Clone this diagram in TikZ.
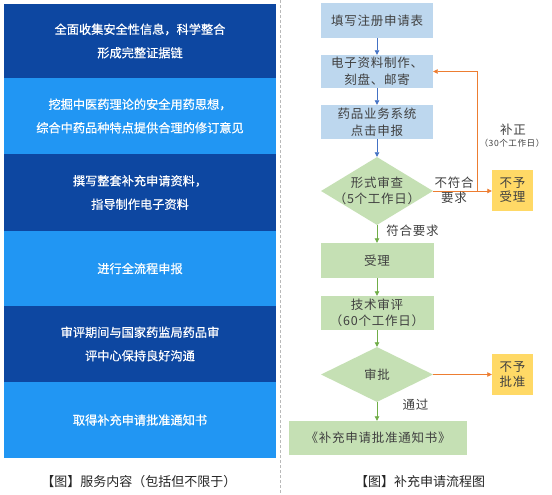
\documentclass[tikz,border=0pt]{standalone}
\usepackage{fontspec}
\setmainfont{Noto Sans CJK SC}
\newfontfamily\lfont[FakeBold=0.6]{Noto Sans CJK SC}
\newfontfamily\rfont[LetterSpace=6]{Noto Sans CJK SC}
\usetikzlibrary{shapes.geometric,arrows.meta}
\definecolor{dk}{HTML}{0D47A1}
\definecolor{lt}{HTML}{2196F3}
\definecolor{bfill}{HTML}{BDD7EE}
\definecolor{gfill}{HTML}{C5E0B4}
\definecolor{yfill}{HTML}{FFD966}
\definecolor{txt}{HTML}{404040}
\definecolor{barrow}{HTML}{4472C4}
\definecolor{garrow}{HTML}{70AD47}
\definecolor{oarrow}{HTML}{ED7D31}
\begin{document}
\begin{tikzpicture}[x=1pt,y=-1pt,
  lbox/.style={draw=none, inner sep=0pt, minimum width=272pt, text=white, align=center,
    font=\lfont\fontsize{12.2}{23.5}\selectfont},
  rbox/.style={draw=none, inner sep=0pt, text=txt, align=center,
    font=\rfont\fontsize{12.5}{16.5}\selectfont},
  ddia/.style={diamond, draw=none, inner sep=0pt, fill=gfill},
  rtxt/.style={inner sep=0pt, text=txt, align=center, font=\rfont\fontsize{12.5}{14.5}\selectfont},
  stxt/.style={inner sep=0pt, text=txt, font=\rfont\fontsize{8.6}{10}\selectfont},
  captxt/.style={inner sep=0pt, text=black!85, font=\fontsize{13}{15}\selectfont},
  arr/.style={line width=0.8pt, -{Triangle[length=4.5pt,width=4.5pt]}},
  barr/.style={arr, draw=barrow},
  garr/.style={arr, draw=garrow},
  oarr/.style={arr, draw=oarrow},
]
\useasboundingbox (0,0) rectangle (552,495);
\fill[white] (0,0) rectangle (552,495);

% left panel
\node[lbox, fill=dk, minimum height=74pt] (s1) at (140,41) {全面收集安全性信息，科学整合\\形成完整证据链};
\node[lbox, fill=lt, minimum height=76pt] (s2) at (140,116) {挖掘中医药理论的安全用药思想，\\综合中药品种特点提供合理的修订意见};
\node[lbox, fill=dk, minimum height=77pt] (s3) at (140,192.5) {撰写整套补充申请资料，\\指导制作电子资料};
\node[lbox, fill=lt, minimum height=75pt] (s4) at (140,268.5) {进行全流程申报};
\node[lbox, fill=dk, minimum height=76pt] (s5) at (140,344) {审评期间与国家药监局药品审\\评中心保持良好沟通};
\node[lbox, fill=lt, minimum height=76pt] (s6) at (140,420) {取得补充申请批准通知书};
\node[captxt] (c1) at (139,482) {【图】服务内容（包括但不限于）};

% separator
\draw[gray!55, line width=1pt, dash pattern=on 3pt off 2pt] (280.5,0) -- (280.5,495);

% right panel
\node[rbox, fill=bfill, minimum width=112pt, minimum height=35pt] (r1) at (377,20.5) {填写注册申请表};
\node[rbox, fill=bfill, minimum width=112pt, minimum height=33pt] (r2) at (377,71.5) {电子资料制作、\\刻盘、邮寄};
\node[rbox, fill=bfill, minimum width=112pt, minimum height=34pt] (r3) at (377,122) {药品业务系统\\点击申报};
\node[ddia, minimum width=112pt, minimum height=68pt] (d1) at (377,191) {};
\node[rbox] (d1t) at (d1) {形式审查\\（5个工作日）};
\node[rbox, fill=gfill, minimum width=113pt, minimum height=35pt] (sl) at (377,260.5) {受理};
\node[rbox, fill=gfill, minimum width=113pt, minimum height=34pt] (js) at (377,313) {技术审评\\（60个工作日）};
\node[ddia, minimum width=112pt, minimum height=55pt] (d2) at (377,374.5) {};
\node[rbox] (d2t) at (d2) {审批};
\node[rbox, fill=gfill, minimum width=178pt, minimum height=34pt] (fin) at (378,438) {《补充申请批准通知书》};
\node[rbox, fill=yfill, minimum width=41pt, minimum height=41pt, font=\rfont\fontsize{12.5}{14.5}\selectfont] (nb1) at (512.5,190) {不予\\受理};
\node[rbox, fill=yfill, minimum width=41pt, minimum height=41pt, font=\rfont\fontsize{12.5}{14.5}\selectfont] (nb2) at (512.5,374.5) {不予\\批准};

% connectors
\draw[barr] (r1) -- (r2);
\draw[barr] (r2) -- (r3);
\draw[barr] (r3) -- (d1);
\draw[garr] (d1) -- (sl);
\draw[garr] (sl) -- (js);
\draw[garr] (js) -- (d2);
\draw[garr] (d2.south) -- (d2.south |- fin.north);
\draw[oarr] (d1.east) -- (d1.east -| nb1.west);
\draw[oarr] (d2.east) -- (d2.east -| nb2.west);
\coordinate (k) at (477,191);
\draw[oarr] (k) |- (r2.east);

% labels
\node[rtxt] (l1) at (454,190) {不符合\\要求};
\node[rtxt] (l2) at (513,130) {补正};
\node[stxt] (l3) at (512,143.5) {（30个工作日）};
\node[rtxt] (l4) at (412.5,231) {符合要求};
\node[rtxt] (l5) at (415.5,405) {通过};
\node[captxt] (c2) at (420,482) {【图】补充申请流程图};
\end{tikzpicture}
\end{document}
